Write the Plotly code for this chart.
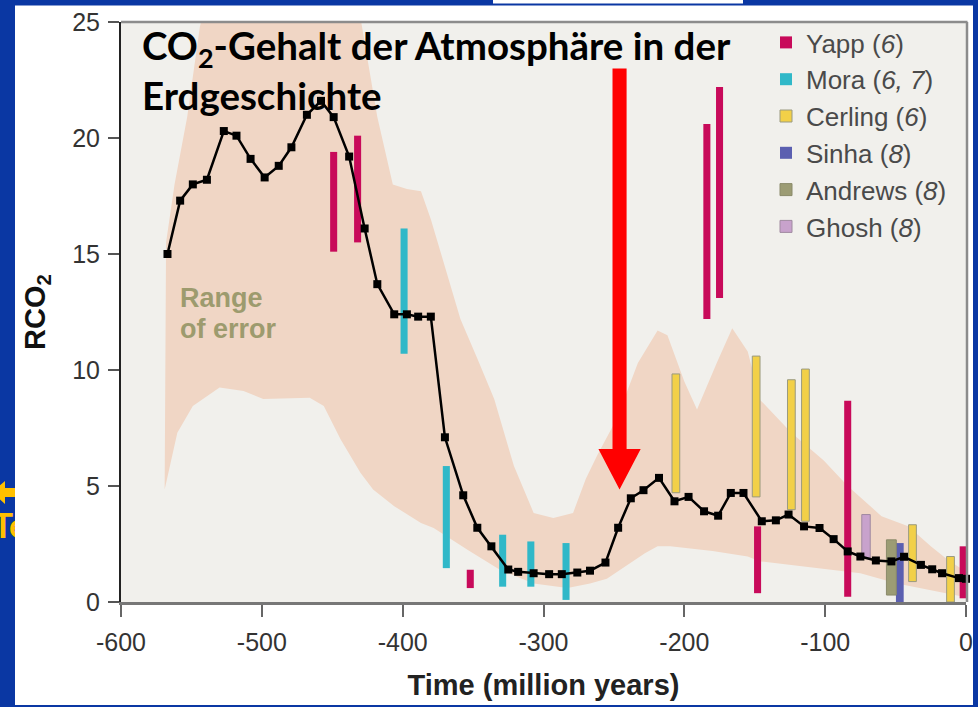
import plotly.graph_objects as go

W, H = 978, 707

# ---------------- data ----------------
# GEOCARB model curve: time (Myr) and RCO2
geocarb_t = [-567, -558, -549, -539, -527, -518, -508, -498, -488, -479,
             -468, -458, -449, -438, -427, -418, -406, -397, -389, -380,
             -370, -357, -347, -337, -325, -318, -307, -296, -287, -276,
             -267, -256, -247, -238, -229, -218, -207, -197, -186, -176,
             -167, -158, -145, -135, -126, -115, -104, -94, -84, -75,
             -64, -53, -44, -32, -24, -17, -5, 0]
geocarb_v = [15.0, 17.3, 18.0, 18.2, 20.3, 20.1, 19.1, 18.3, 18.8, 19.6,
             21.0, 21.6, 20.9, 19.2, 16.1, 13.7, 12.4, 12.4, 12.3, 12.3,
             7.1, 4.6, 3.2, 2.4, 1.4, 1.3, 1.24, 1.2, 1.2, 1.27,
             1.35, 1.7, 3.2, 4.47, 4.82, 5.35, 4.34, 4.53, 3.91, 3.72,
             4.7, 4.7, 3.48, 3.52, 3.77, 3.26, 3.19, 2.71, 2.18, 1.96,
             1.79, 1.75, 1.95, 1.6, 1.41, 1.24, 1.03, 1.0]

# Range of error envelope
band_upper_t = [-569, -568, -562, -553, -544, -535, -520, -500, -480, -460,
                -445, -430, -418, -407, -397, -387, -380, -366, -359, -347,
                -335, -321, -307, -293, -279, -270, -262, -248, -233, -219,
                -212, -200, -191, -177, -166, -155, -146, -124, -101, -84,
                -60, -41, -25, -13, 0]
band_upper_v = [5.0, 15.5, 18.0, 20.9, 24.8, 27.0, 29.0, 30.0, 30.0, 29.0,
                27.0, 25.2, 20.9, 18.0, 17.8, 17.7, 16.5, 13.65, 12.2, 10.5,
                8.75, 5.86, 3.84, 3.62, 3.84, 5.3, 6.3, 7.9, 10.3, 11.7,
                11.5, 9.5, 8.3, 10.3, 11.8, 10.8, 8.7, 7.3, 6.1, 5.0,
                3.7, 3.26, 2.4, 1.82, 1.3]
band_lower_t = [-569, -560, -549, -530, -513, -499, -487, -466, -456, -444,
                -430, -421, -406, -402, -387, -378, -354, -331, -307, -283,
                -267, -255, -240, -228, -219, -210, -180, -155, -146, -120,
                -96, -75, -49, -25, 0]
band_lower_v = [4.85, 7.3, 8.45, 9.25, 9.1, 8.75, 8.75, 8.8, 8.45, 7.0,
                5.57, 4.85, 4.13, 3.98, 3.4, 3.19, 2.25, 1.39, 0.8, 0.6,
                0.8, 1.0, 1.6, 2.1, 2.4, 2.4, 2.2, 1.96, 1.75, 1.55,
                1.39, 1.24, 0.8, 0.5, 0.2]

# Proxy data (vertical ranges)
sources = ["Yapp", "Mora", "Cerling", "Sinha", "Andrews", "Ghosh"]
source_refs = ["6", "6, 7", "6", "8", "8", "8"]

yapp_t = [-449, -432, -352, -184, -175, -148, -84, -2]
yapp_lo = [15.1, 15.5, 0.6, 12.2, 13.1, 0.38, 0.23, 0.16]
yapp_hi = [19.4, 20.1, 1.39, 20.6, 22.2, 3.26, 8.67, 2.4]

mora_t = [-399, -369, -329, -309, -284]
mora_lo = [10.7, 1.46, 0.66, 0.66, 0.09]
mora_hi = [16.1, 5.86, 2.9, 2.61, 2.54]

cerling_t = [-206, -149, -124, -114, -38, -11]
cerling_lo = [4.71, 4.53, 3.98, 3.48, 0.88, 0.0]
cerling_hi = [9.83, 10.6, 9.58, 10.04, 3.33, 1.96]

sinha_t = [-47]
sinha_lo = [0.0]
sinha_hi = [2.54]

andrews_t = [-53]
andrews_lo = [0.3]
andrews_hi = [2.68]

ghosh_t = [-71]
ghosh_lo = [1.89]
ghosh_hi = [3.77]

x_tickvals = [-600, -500, -400, -300, -200, -100, 0]
x_ticktext = ["-600", "-500", "-400", "-300", "-200", "-100", "0"]
y_tickvals = [0, 5, 10, 15, 20, 25]
y_ticktext = ["0", "5", "10", "15", "20", "25"]

# Red arrow overlay (data coordinates)
arrow_t = -246
arrow_top = 23.0
arrow_head_base = 6.6
arrow_tip = 4.85
arrow_shaft_half = 5.0
arrow_head_half = 15.0

# ---------------- styles ----------------
BLUE = "#0a37a3"
GOLD = "#ffc000"
source_colors = {"Yapp": "#c80a5a", "Mora": "#30b8c8", "Cerling": "#f2d048",
                 "Sinha": "#5b5fb0", "Andrews": "#9c9c74", "Ghosh": "#c8a2cc"}
source_line = {"Yapp": None, "Mora": None, "Cerling": "#9a9a80",
               "Sinha": None, "Andrews": "#8a8a6a", "Ghosh": "#a08aa0"}
source_width = {"Yapp": 5.0, "Mora": 5.0, "Cerling": 5.5,
                "Sinha": 5.5, "Andrews": 7.0, "Ghosh": 6.0}

SANS = "Liberation Sans, Arial, Helvetica, sans-serif"
TITLEFONT = "Lato, Noto Sans, sans-serif"
X_RANGE = [-600, 0]
Y_RANGE = [0, 25]


def fx(px):
    return px / W


def fy(py):
    return 1 - py / H


fig = go.Figure()

# error envelope polygon (main subplot, underneath)
band_x = band_upper_t + band_lower_t[::-1]
band_y = band_upper_v + band_lower_v[::-1]
fig.add_trace(go.Scatter(x=band_x, y=band_y, fill="toself", fillcolor="#f0d6c5",
                         mode="lines", line=dict(width=0), hoverinfo="skip",
                         showlegend=False))

# proxy ranges and model curve on an overlaid subplot, drawn above the band
proxy = {
    "Yapp": (yapp_t, yapp_lo, yapp_hi),
    "Mora": (mora_t, mora_lo, mora_hi),
    "Cerling": (cerling_t, cerling_lo, cerling_hi),
    "Sinha": (sinha_t, sinha_lo, sinha_hi),
    "Andrews": (andrews_t, andrews_lo, andrews_hi),
    "Ghosh": (ghosh_t, ghosh_lo, ghosh_hi),
}
for src, ref in zip(sources, source_refs):
    t, lo, hi = proxy[src]
    lc = source_line[src]
    fig.add_trace(go.Bar(
        x=t, y=[h - l for h, l in zip(hi, lo)], base=lo,
        width=[source_width[src]] * len(t),
        marker=dict(color=source_colors[src],
                    line=dict(color=lc if lc else source_colors[src],
                              width=1 if lc else 0)),
        name=f"{src} (<i>{ref}</i>)", hoverinfo="skip",
        xaxis="x3", yaxis="y3"))

fig.add_trace(go.Scatter(x=geocarb_t, y=geocarb_v, mode="lines+markers",
                         line=dict(color="black", width=2.5),
                         marker=dict(symbol="square", size=8, color="black"),
                         showlegend=False, cliponaxis=False, hoverinfo="skip",
                         xaxis="x3", yaxis="y3"))

# cropped yellow slide text on the left edge (clipped to a tiny subplot)
fig.add_trace(go.Scatter(x=[10], y=[529], mode="text", text=["<b>Te</b>"],
                         textfont=dict(family=TITLEFONT, size=34, color=GOLD),
                         textposition="middle center", xaxis="x2", yaxis="y2",
                         cliponaxis=True, showlegend=False, hoverinfo="skip"))

# ---------------- shapes ----------------
shapes = [
    # white slide panel
    dict(type="rect", xref="paper", yref="paper", x0=fx(15), x1=fx(973),
         y0=fy(705), y1=fy(5.5), fillcolor="white", line=dict(width=0),
         layer="below"),
    # plot background
    dict(type="rect", xref="x", yref="y", x0=X_RANGE[0], x1=X_RANGE[1],
         y0=Y_RANGE[0], y1=Y_RANGE[1],
         fillcolor="#f1f0ec", line=dict(width=0), layer="below"),
    # frame top/right
    dict(type="line", xref="paper", yref="paper", x0=fx(121), x1=fx(967.5),
         y0=fy(22), y1=fy(22), line=dict(color="#8c8c8c", width=2.5),
         layer="above"),
    dict(type="line", xref="paper", yref="paper", x0=fx(967), x1=fx(967),
         y0=fy(22), y1=fy(602), line=dict(color="#8c8c8c", width=2.5),
         layer="above"),
    # right blue border covering the clipped "0"
    dict(type="rect", xref="paper", yref="paper", x0=fx(973), x1=1.0,
         y0=0, y1=1, fillcolor=BLUE, line=dict(width=0), layer="above"),
    # little white strip at the top edge
    dict(type="rect", xref="paper", yref="paper", x0=fx(493), x1=fx(743),
         y0=fy(3.5), y1=1.0, fillcolor="white", line=dict(width=0),
         layer="above"),
    # yellow arrow fragment at the left edge
    dict(type="path", xref="paper", yref="paper",
         path=(f"M {fx(-8)},{fy(492)} L {fx(5)},{fy(481)} L {fx(5)},{fy(488)} "
               f"L {fx(15)},{fy(488)} L {fx(15)},{fy(497)} L {fx(5)},{fy(497)} "
               f"L {fx(5)},{fy(504)} Z"),
         fillcolor=GOLD, line=dict(width=0), layer="above"),
    # red arrow
    dict(type="path", xref="x", yref="y",
         path=(f"M {arrow_t - arrow_shaft_half},{arrow_top} "
               f"L {arrow_t + arrow_shaft_half},{arrow_top} "
               f"L {arrow_t + arrow_shaft_half},{arrow_head_base} "
               f"L {arrow_t + arrow_head_half},{arrow_head_base} "
               f"L {arrow_t},{arrow_tip} "
               f"L {arrow_t - arrow_head_half},{arrow_head_base} "
               f"L {arrow_t - arrow_shaft_half},{arrow_head_base} Z"),
         fillcolor="#ff0000", line=dict(width=0), layer="above"),
]

annotations = [
    dict(text="<b>CO<sub>2</sub>-Gehalt der Atmosphäre in der<br>Erdgeschichte</b>",
         xref="paper", yref="paper", x=fx(140), y=fy(20), xanchor="left",
         yanchor="top", align="left", showarrow=False,
         font=dict(family=TITLEFONT, size=38.5, color="black")),
    dict(text="<b>Range</b>", xref="paper", yref="paper", x=fx(178),
         y=fy(281), xanchor="left", yanchor="top", showarrow=False,
         font=dict(family=SANS, size=27, color="#9d9b6e")),
    dict(text="<b>of error</b>", xref="paper", yref="paper", x=fx(178),
         y=fy(312), xanchor="left", yanchor="top", showarrow=False,
         font=dict(family=SANS, size=27, color="#9d9b6e")),
]

x_dom = [fx(121), fx(966)]
y_dom = [fy(602), fy(22)]

fig.update_layout(
    template="none",
    width=W, height=H, autosize=False,
    margin=dict(l=0, r=0, t=0, b=0, pad=0),
    paper_bgcolor=BLUE, plot_bgcolor="rgba(0,0,0,0)",
    barmode="overlay",
    shapes=shapes, annotations=annotations,
    showlegend=True,
    legend=dict(x=fx(766), y=fy(19), xanchor="left", yanchor="top",
                bgcolor="rgba(0,0,0,0)", borderwidth=0,
                font=dict(family=SANS, size=26, color="#4a4a4a"),
                itemwidth=30, tracegroupgap=0),
    xaxis=dict(domain=x_dom, range=X_RANGE, automargin=False,
               tickmode="array", tickvals=x_tickvals, ticktext=x_ticktext,
               ticks="outside", ticklen=12, tickwidth=2, tickcolor="#666",
               showline=True, linecolor="#777", linewidth=2.5,
               showgrid=False, zeroline=False, ticklabelstandoff=4,
               tickfont=dict(family=SANS, size=25, color="#333"),
               title=dict(text="<b>Time (million years)</b>", standoff=20,
                          font=dict(family=SANS, size=29, color="#222")),
               fixedrange=True),
    yaxis=dict(domain=y_dom, range=Y_RANGE, automargin=False,
               tickmode="array", tickvals=y_tickvals, ticktext=y_ticktext,
               ticks="outside", ticklen=11, tickwidth=1.5, tickcolor="#555",
               showline=True, linecolor="#222", linewidth=2,
               showgrid=False, zeroline=False, ticklabelstandoff=3,
               tickfont=dict(family=SANS, size=25, color="#333"),
               title=dict(text="<b>RCO<sub>2</sub></b>", standoff=18,
                          font=dict(family=SANS, size=29, color="#111")),
               fixedrange=True),
    xaxis3=dict(overlaying="x", matches="x", range=X_RANGE, visible=False,
                automargin=False, anchor="y3", fixedrange=True),
    yaxis3=dict(overlaying="y", range=Y_RANGE, visible=False,
                automargin=False, anchor="x3", fixedrange=True),
    xaxis2=dict(domain=[0, fx(15)], range=[0, 15], visible=False,
                automargin=False, anchor="y2", fixedrange=True),
    yaxis2=dict(domain=[fy(556), fy(504)], range=[556, 504], visible=False,
                automargin=False, anchor="x2", fixedrange=True),
)

fig.write_html(
    "out.html",
    config={"displayModeBar": False},
    post_script=("document.body.style.margin='0';"
                 "document.body.style.overflow='hidden';"),
)
